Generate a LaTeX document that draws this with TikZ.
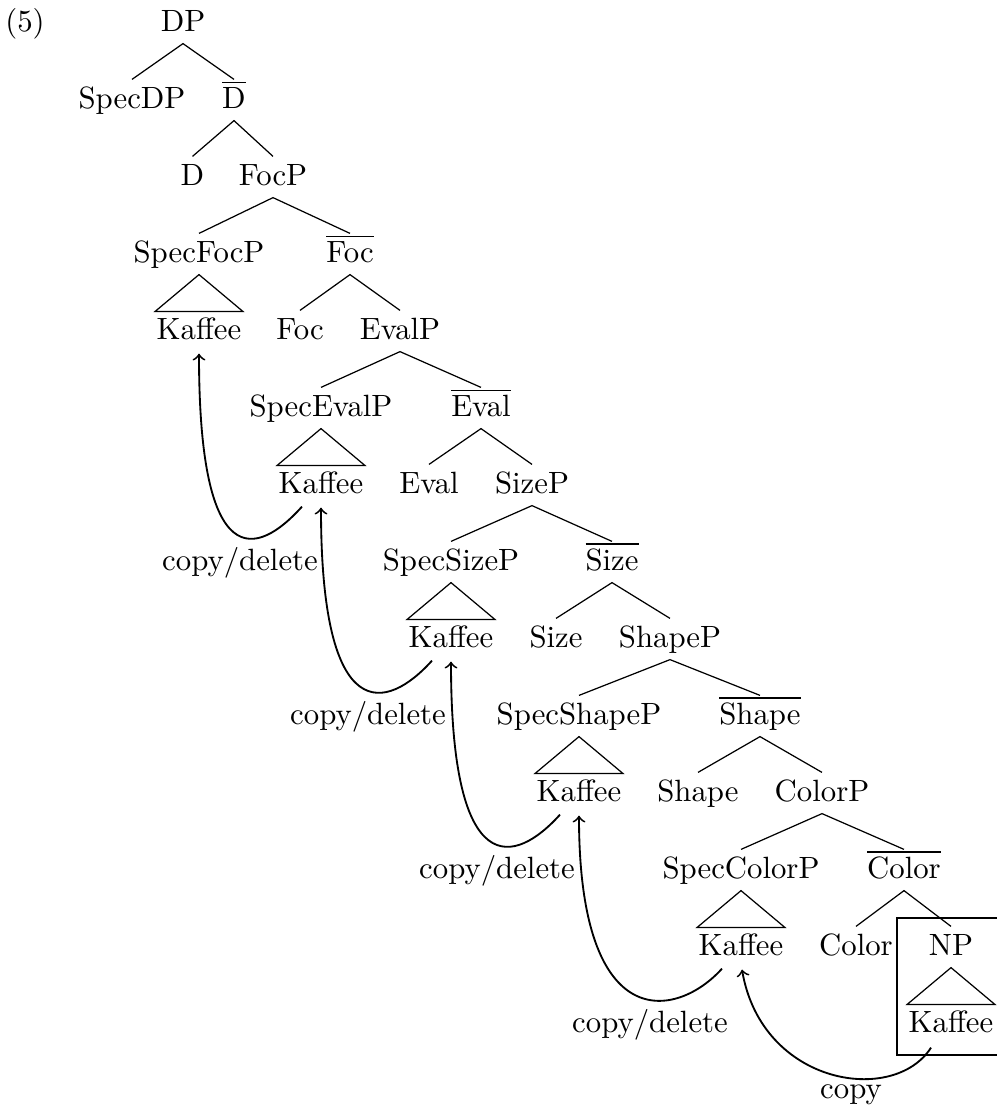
\documentclass[tikz,border=0pt]{standalone}
\usetikzlibrary{calc}
\begin{document}
\begin{tikzpicture}[x=0.325pt,y=-0.325pt,
  lab/.style={inner ysep=0pt, inner xsep=0.3pt, text height=9.1pt, text depth=3.9pt, anchor=base},
  branch/.style={line width=0.4pt},
  mv/.style={->, line width=0.6pt}]
\useasboundingbox (0,0) rectangle (997,1110);
% nodes
\node[lab] (ex) at (25,31) {(5)};
\node[lab] (DP) at (183,31) {DP};
\node[lab] (SpecDP) at (132,108) {SpecDP};
\node[lab] (Dbar) at (234,108) {$\overline{\mbox{D}}$};
\node[lab] (D) at (192.5,185) {D};
\node[lab] (FocP) at (273,185) {FocP};
\node[lab] (SpecFocP) at (199,262) {SpecFocP};
\node[lab] (Focbar) at (350,262) {$\overline{\mbox{Foc}}$};
\node[lab] (K1) at (199,339) {Kaffee};
\node[lab] (Foc) at (300,339) {Foc};
\node[lab] (EvalP) at (400,339) {EvalP};
\node[lab] (SpecEvalP) at (321,416) {SpecEvalP};
\node[lab] (Evalbar) at (481,416) {$\overline{\mbox{Eval}}$};
\node[lab] (K2) at (321,493) {Kaffee};
\node[lab] (Eval) at (429,493) {Eval};
\node[lab] (SizeP) at (532,493) {SizeP};
\node[lab] (SpecSizeP) at (451,570) {SpecSizeP};
\node[lab] (Sizebar) at (612,570) {$\overline{\mbox{Size}}$};
\node[lab] (K3) at (451,647) {Kaffee};
\node[lab] (Size) at (556,647) {Size};
\node[lab] (ShapeP) at (670,647) {ShapeP};
\node[lab] (SpecShapeP) at (579,724) {SpecShapeP};
\node[lab] (Shapebar) at (760,724) {$\overline{\mbox{Shape}}$};
\node[lab] (K4) at (579,801) {Kaffee};
\node[lab] (Shape) at (698,801) {Shape};
\node[lab] (ColorP) at (822,801) {ColorP};
\node[lab] (SpecColorP) at (741,878) {SpecColorP};
\node[lab] (Colorbar) at (904,878) {$\overline{\mbox{Color}}$};
\node[lab] (K5) at (741,955) {Kaffee};
\node[lab] (Color) at (856,955) {Color};
\node[lab] (NP) at (951,955) {NP};
\node[lab] (K6) at (951,1032) {Kaffee};
% labels
\node[lab] (L1) at (240,570) {copy/delete};
\node[lab] (L2) at (368,724) {copy/delete};
\node[lab] (L3) at (497,878) {copy/delete};
\node[lab] (L4) at (650,1032) {copy/delete};
\node[lab] (L5) at (851,1098) {copy};
% branches
\draw[branch] (SpecDP.north) -- (DP.south) -- (Dbar.north);
\draw[branch] (D.north) -- (Dbar.south) -- (FocP.north);
\draw[branch] (SpecFocP.north) -- (FocP.south) -- (Focbar.north);
\draw[branch] (Foc.north) -- (Focbar.south) -- (EvalP.north);
\draw[branch] (SpecEvalP.north) -- (EvalP.south) -- (Evalbar.north);
\draw[branch] (Eval.north) -- (Evalbar.south) -- (SizeP.north);
\draw[branch] (SpecSizeP.north) -- (SizeP.south) -- (Sizebar.north);
\draw[branch] (Size.north) -- (Sizebar.south) -- (ShapeP.north);
\draw[branch] (SpecShapeP.north) -- (ShapeP.south) -- (Shapebar.north);
\draw[branch] (Shape.north) -- (Shapebar.south) -- (ColorP.north);
\draw[branch] (SpecColorP.north) -- (ColorP.south) -- (Colorbar.north);
\draw[branch] (Color.north) -- (Colorbar.south) -- (NP.north);
% triangles
\draw[branch] (SpecFocP.south) -- ($(K1.north west)+(0,1)$) -- ($(K1.north east)+(0,1)$) -- cycle;
\draw[branch] (SpecEvalP.south) -- ($(K2.north west)+(0,1)$) -- ($(K2.north east)+(0,1)$) -- cycle;
\draw[branch] (SpecSizeP.south) -- ($(K3.north west)+(0,1)$) -- ($(K3.north east)+(0,1)$) -- cycle;
\draw[branch] (SpecShapeP.south) -- ($(K4.north west)+(0,1)$) -- ($(K4.north east)+(0,1)$) -- cycle;
\draw[branch] (SpecColorP.south) -- ($(K5.north west)+(0,1)$) -- ($(K5.north east)+(0,1)$) -- cycle;
\draw[branch] (NP.south) -- ($(K6.north west)+(0,1)$) -- ($(K6.north east)+(0,1)$) -- cycle;
% box
\coordinate (btr) at (998,918);
\coordinate (btl) at (897,918);
\coordinate (bbl) at (897,1055);
\coordinate (bbr) at (998,1055);
\draw[branch] (btr) -- (btl) -- (bbl) -- (bbr);
% movement arrows
\draw[mv] ($(K2.south)+(-19,1)$) .. controls +(-45,50) and +(0,222) .. ($(K1.south)+(0,2)$);
\draw[mv] ($(K3.south)+(-19,1)$) .. controls +(-45,50) and +(0,222) .. ($(K2.south)+(0,2)$);
\draw[mv] ($(K4.south)+(-19,1)$) .. controls +(-45,50) and +(0,222) .. ($(K3.south)+(0,2)$);
\draw[mv] ($(K5.south)+(-19,1)$) .. controls +(-45,50) and +(0,222) .. ($(K4.south)+(0,2)$);
\draw[mv] ($(K6.south)+(-20,3)$) .. controls +(-37,58) and +(20,116) .. ($(K5.south)+(1,2)$);
\end{tikzpicture}
\end{document}
